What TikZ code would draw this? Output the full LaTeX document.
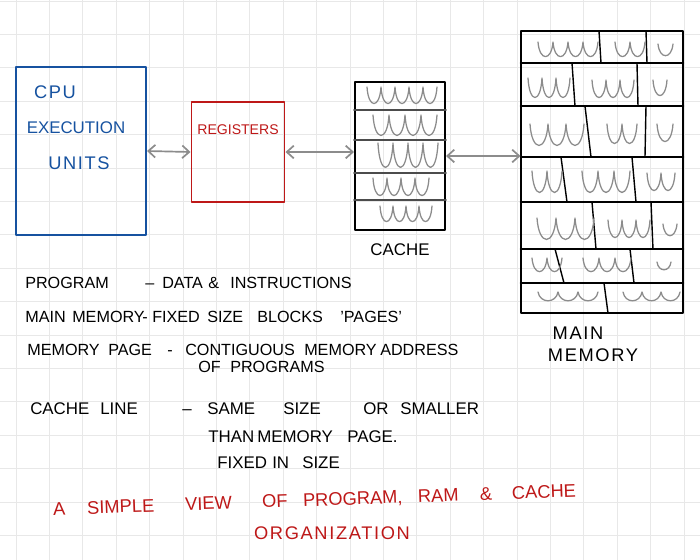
\documentclass[tikz,border=0pt]{standalone}
\usepackage{fontspec}
\setmainfont{Liberation Sans}
\usetikzlibrary{arrows.meta}
\definecolor{penblue}{RGB}{22,82,160}
\definecolor{penred}{RGB}{190,24,24}
\definecolor{pencil}{RGB}{140,140,140}
\definecolor{gridgray}{RGB}{232,232,232}
\newlength{\pxlen}
\setlength{\pxlen}{0.025cm}
% a handwritten word held in a box as wide as the step to the next word
\newcommand{\wordbox}[2]{\makebox[#1\pxlen][l]{#2}}
% one row of handwritten humps: x, top y, hump width, count, depth
\newcommand{\squig}[5]{%
  \draw[squigline] (#1,#2) \foreach \k in {1,...,#4}{
    .. controls +(0.1*#3,1.3*#5) and +(-0.1*#3,1.3*#5) .. ++(#3,0)};}

\begin{document}
\begin{tikzpicture}[x=0.025cm,y=-0.025cm,line cap=round,line join=round,
  gridline/.style={gridgray,line width=0.6pt},
  box/.style={draw,line width=1.4pt,inner sep=0pt},
  memline/.style={black,line width=1pt},
  link/.style={{Straight Barb[length=5pt,width=9pt]}-{Straight Barb[length=5pt,width=9pt]},
    pencil,line width=1.2pt},
  squigline/.style={pencil,line width=0.9pt},
  note/.style={anchor=west,inner sep=0pt,font=\fontsize{11.5}{14}\selectfont},
  bignote/.style={note,font=\fontsize{12}{14}\selectfont},
  hand/.style={font=\fontsize{12}{14}\selectfont},
  spaced/.style={font=\fontsize{13}{14}\selectfont\addfontfeature{LetterSpace=9}}]
  \useasboundingbox (0,0) rectangle (700,560);
  \fill[white] (0,0) rectangle (700,560);

  % squared paper
  \foreach \k in {0,...,20}{
    \draw[gridline] (16+33.4*\k,0) -- (16+33.4*\k,560);
  }
  \foreach \k in {0,...,16}{
    \draw[gridline] (0,1+33.4*\k) -- (700,1+33.4*\k);
  }

  % CPU and registers
  \node[box,draw=penblue,minimum width=3.25cm,minimum height=4.2cm] (cpu) at (81,151) {};
  \node[spaced,text=penblue] (cpuname) at (55,92) {CPU};
  \node[hand,text=penblue] (cpuexec) at (76,128) {EXECUTION};
  \node[spaced,text=penblue] (cpuunits) at (79,163) {UNITS};

  \node[box,draw=penred,minimum width=2.325cm,minimum height=2.5cm] (reg) at (238,152) {};
  \node[hand,text=penred,font=\fontsize{10}{12}\selectfont] (regname) at (238,130) {REGISTERS};

  % cache with its lines
  \node[box,minimum width=2.25cm,minimum height=3.7cm] (cache) at (400,156) {};
  \foreach \y in {110,140,173,200}{
    \draw[black!70,line width=1.1pt] (cache.west |- 0,\y) -- (cache.east |- 0,\y);
  }
  \squig{367}{87}{14}{5}{17}
  \squig{373}{115}{16}{4}{21}
  \squig{378}{143}{15}{4}{25}
  \squig{373}{178}{14}{4}{18}
  \squig{380}{206}{13}{4}{16}
  \node[hand] (cachename) at (400,250) {CACHE};

  % main memory split into pages
  \node[box,minimum width=4.025cm,minimum height=7.05cm] (mem) at (602,172) {};
  \foreach \y in {63,106,157,202,249,283}{
    \draw[memline] (mem.west |- 0,\y) -- (mem.east |- 0,\y);
  }
  \foreach \xa/\xb/\ya/\yb in {
    599/601/31/63, 646/647/31/63,
    572/575/63/106, 637/638/63/106,
    585/591/106/157, 646/645/106/157,
    561/567/157/202, 632/636/157/202,
    592/596/202/249, 651/653/202/249,
    555/564/249/283, 630/634/249/283,
    604/608/283/313}{
    \draw[memline] (\xa,\ya) -- (\xb,\yb);
  }
  \squig{538}{42}{15}{4}{15}
  \squig{615}{42}{15}{2}{15}
  \squig{658}{44}{15}{1}{12}
  \squig{528}{78}{14}{3}{20}
  \squig{592}{80}{14}{3}{18}
  \squig{653}{80}{14}{1}{16}
  \squig{530}{124}{18}{3}{22}
  \squig{607}{124}{15}{2}{20}
  \squig{657}{124}{16}{1}{18}
  \squig{532}{171}{15}{2}{22}
  \squig{582}{171}{16}{3}{22}
  \squig{647}{173}{14}{2}{18}
  \squig{537}{218}{19}{3}{22}
  \squig{608}{220}{14}{3}{18}
  \squig{663}{224}{14}{1}{12}
  \squig{532}{258}{15}{2}{14}
  \squig{583}{258}{16}{3}{14}
  \squig{657}{262}{14}{1}{8}
  \squig{538}{292}{20}{3}{9}
  \squig{623}{292}{19}{3}{9}
  \node[spaced] (memname) at (578,333) {MAIN};
  \node[spaced] (memname2) at (593,355) {MEMORY};

  % data paths
  \draw[link] (cpu.east) -- (reg.west);
  \draw[link] (reg.east) -- (reg.east -| cache.west);
  \draw[link] (cache.east) -- (cache.east -| mem.west);

  % notes
  \node[note] (prog) at (25,283) {\wordbox{120}{PROGRAM}\wordbox{17}{--}%
    \wordbox{46}{DATA}\wordbox{22}{\&}INSTRUCTIONS};
  \node[note] (mainmem) at (25,317) {\wordbox{47}{MAIN}\wordbox{70}{MEMORY}%
    \wordbox{10}{-}\wordbox{55}{FIXED}\wordbox{50}{SIZE}\wordbox{83}{BLOCKS}'PAGES'};
  \node[note] (mempage) at (27,350) {\wordbox{81}{MEMORY}\wordbox{59}{PAGE}%
    \wordbox{18}{-}\wordbox{119}{CONTIGUOUS}\wordbox{76}{MEMORY}ADDRESS};
  \node[note] (ofprog) at (198,367) {\wordbox{32}{OF}PROGRAMS};
  \node[bignote] (cacheline) at (30,409) {\wordbox{70}{CACHE}\wordbox{82}{LINE}%
    \wordbox{25}{--}\wordbox{76}{SAME}\wordbox{80}{SIZE}\wordbox{37}{OR}SMALLER};
  \node[bignote] (than) at (208,437) {\wordbox{49}{THAN}\wordbox{90}{MEMORY}PAGE.};
  \node[bignote] (fixed) at (217,463) {\wordbox{55}{FIXED}\wordbox{30}{IN}SIZE};

  % caption
  \node[note,text=penred,rotate=2,font=\fontsize{13}{14}\selectfont] (title) at (53,510)
    {\wordbox{34}{A}\wordbox{98}{SIMPLE}\wordbox{77}{VIEW}\wordbox{41}{OF}%
     \wordbox{115}{PROGRAM,}\wordbox{62}{RAM}\wordbox{32}{\&}CACHE};
  \node[spaced,text=penred] (title2) at (332,533) {ORGANIZATION};
\end{tikzpicture}
\end{document}
